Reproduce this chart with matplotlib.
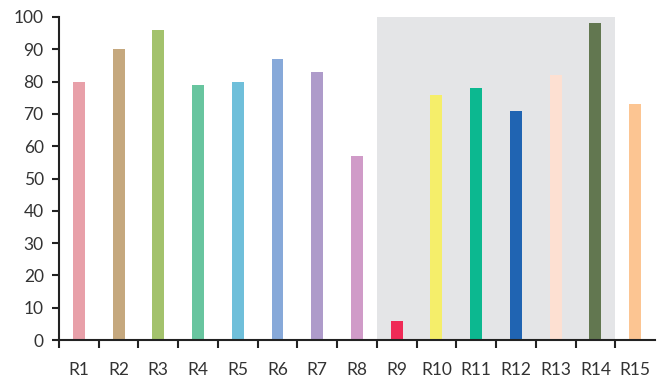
import matplotlib
matplotlib.use("Agg")
import matplotlib.pyplot as plt
import numpy as np

# Scores per region
regions = ["R1", "R2", "R3", "R4", "R5", "R6", "R7", "R8",
           "R9", "R10", "R11", "R12", "R13", "R14", "R15"]
scores = [80, 90, 96, 79, 80, 87, 83, 57, 6, 76, 78, 71, 82, 98, 73]
colors = ["#e8a0a9", "#c5a87e", "#a3c26c", "#68c59f", "#6fbfda",
          "#87a9d9", "#ae9bca", "#d09bc8", "#ef2a56", "#f5ee6a",
          "#0cb890", "#2064b2", "#fde0d2", "#627750", "#fcc592"]
highlight = ["R9", "R14"]  # first and last region of the shaded block

plt.rcParams["font.family"] = ["Lato", "DejaVu Sans"]

fig = plt.figure(figsize=(6.6, 3.77), dpi=100)
ax = fig.add_axes([0.0894, 0.098, 0.9030, 0.857])

x = np.arange(len(regions))
i0, i1 = regions.index(highlight[0]), regions.index(highlight[1])
ax.axvspan(i0 - 0.5, i1 + 0.5, ymin=0, ymax=1, color="#e4e5e7", lw=0, zorder=0)
ax.bar(x, scores, width=0.3, color=colors, zorder=2)

ax.set_xlim(-0.5, len(regions) - 0.5)
ax.set_ylim(0, 100)
ax.set_yticks(range(0, 101, 10))
ax.set_xticks(x)
ax.set_xticklabels(regions)
# ticks sit between categories (none at the far right end), labels under the bars
ax.set_xticks(np.arange(-0.5, len(regions) - 1, 1), minor=True)
ax.tick_params(axis="x", which="major", length=0, pad=16)
ax.tick_params(axis="x", which="minor", length=6, width=1.5, color="#222222")
ax.tick_params(axis="y", length=5, width=1.5, color="#222222", pad=6)
ax.tick_params(labelsize=12.5, labelcolor="#333333")

for side in ["top", "right"]:
    ax.spines[side].set_visible(False)
for side in ["left", "bottom"]:
    ax.spines[side].set_linewidth(1.5)
    ax.spines[side].set_color("#222222")

fig.savefig("out.png", dpi=100)
